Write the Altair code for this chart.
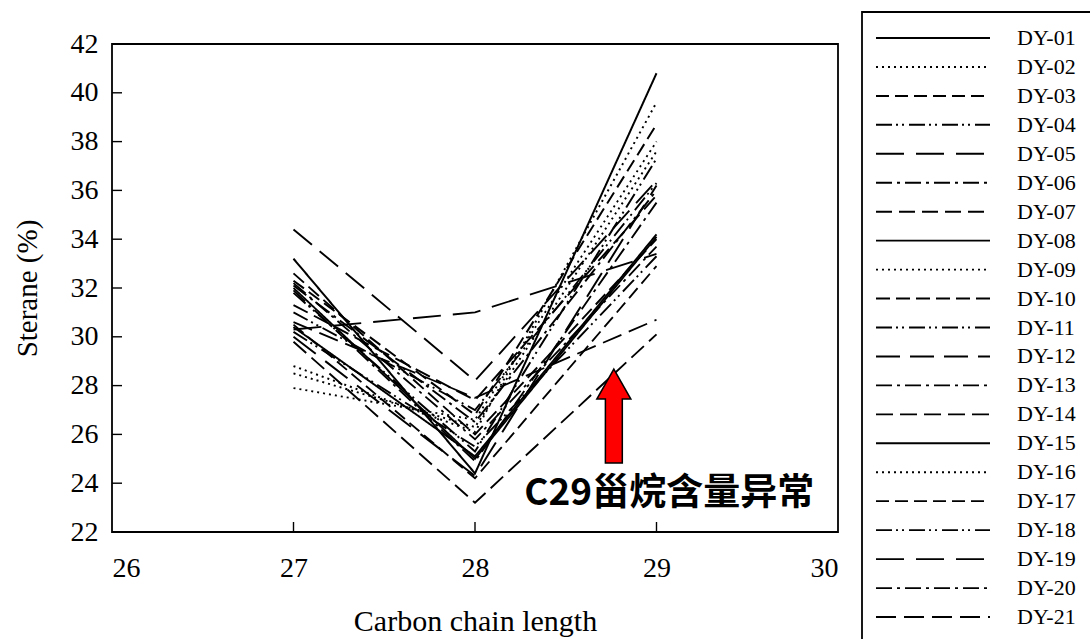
import altair as alt
import pandas as pd

# Sterane distribution (C27 / C28 / C29, %) for each sample
samples = [f"DY-{i:02d}" for i in range(1, 22)]
c27 = [33.2, 28.8, 32.3, 31.8, 30.0, 32.1, 31.3, 30.4, 28.5, 32.6, 30.2,
       34.4, 31.9, 29.8, 32.0, 27.9, 30.5, 31.0, 30.3, 32.2, 30.6]
c28 = [24.4, 26.1, 26.8, 25.3, 24.3, 26.5, 27.4, 25.1, 26.3, 26.0, 25.5,
       28.2, 24.9, 23.2, 25.0, 26.6, 24.2, 27.0, 31.0, 25.8, 27.5]
c29 = [40.8, 39.6, 38.7, 37.3, 36.2, 36.0, 35.8, 34.2, 37.6, 34.0, 33.3,
       36.4, 35.5, 30.1, 34.1, 38.0, 32.9, 36.3, 33.4, 33.7, 30.7]
carbon = [27, 28, 29]

x_ticks = [27, 28, 29]
y_ticks = [24, 26, 28, 30, 32, 34, 36, 38, 40]

# line style per sample
dashes = [
    [1, 0], [2, 4], [13, 6], [16, 4, 2, 4, 2, 5], [28, 12], [16, 5, 3, 5],
    [16, 7], [1, 0], [2, 4], [14, 6], [16, 4, 2, 4, 2, 5], [24, 10],
    [16, 5, 3, 5], [17, 7], [1, 0], [2, 4], [13, 6], [16, 4, 2, 4, 2, 5],
    [28, 12], [16, 5, 3, 5], [20, 8],
]
widths = [2.0, 1.8, 2.8, 1.9, 1.9, 2.8, 2.1, 2.0, 1.8, 2.1, 1.9, 2.8,
          2.0, 2.0, 2.9, 1.8, 2.3, 2.6, 1.9, 2.1, 2.8]

annotation = "C29甾烷含量异常"

rows = []
for s, a, b, c in zip(samples, c27, c28, c29):
    for x, y in zip(carbon, (a, b, c)):
        rows.append({"sample": s, "carbon": x, "value": y})
df = pd.DataFrame(rows)
legend_df = pd.DataFrame({"sample": samples})

W, H = 726, 488
SERIF = "'Liberation Serif', 'Times New Roman', Times, serif"

xs = alt.Scale(domain=[26, 30], nice=False, zero=False)
ys = alt.Scale(domain=[22, 42], nice=False, zero=False)
dash_scale = alt.Scale(domain=samples, range=dashes)
width_scale = alt.Scale(domain=samples, range=widths)

lines = alt.Chart(df).mark_line(color="black").encode(
    x=alt.X("carbon:Q", scale=xs,
            axis=alt.Axis(values=[26, 27, 28, 29, 30], title="Carbon chain length",
                          ticks=False, domain=False, grid=False, format="d",
                          labelFont=SERIF, labelFontSize=28, labelColor="black",
                          labelPadding=22, titleFont=SERIF, titleFontSize=30,
                          titleFontWeight="normal", titleColor="black", titlePadding=24)),
    y=alt.Y("value:Q", scale=ys,
            axis=alt.Axis(values=list(range(22, 43, 2)), title="Sterane (%)",
                          ticks=False, domain=False, grid=False,
                          labelFont=SERIF, labelFontSize=28, labelColor="black",
                          labelPadding=14, titleFont=SERIF, titleFontSize=29,
                          titleFontWeight="normal", titleColor="black", titlePadding=28)),
    detail="sample:N",
    strokeDash=alt.StrokeDash("sample:N", scale=dash_scale, legend=None),
    strokeWidth=alt.StrokeWidth("sample:N", scale=width_scale, legend=None),
)

xtick = alt.Chart(pd.DataFrame({"v": x_ticks})).mark_rule(color="black", strokeWidth=1.4).encode(
    x=alt.X("v:Q", scale=xs), y=alt.value(H), y2=alt.value(H - 10))
ytick = alt.Chart(pd.DataFrame({"v": y_ticks})).mark_rule(color="black", strokeWidth=1.4).encode(
    y=alt.Y("v:Q", scale=ys), x=alt.value(0), x2=alt.value(10))

arrow_path = ("M0,-1 L0.362,-0.362 L0.18,-0.362 L0.18,1 L-0.18,1 "
              "L-0.18,-0.362 L-0.362,-0.362 Z")
arrow = alt.Chart(pd.DataFrame({"x": [28.765], "y": [26.75]})).mark_point(
    shape=arrow_path, size=8836, filled=True, fill="#ff0000", stroke="black",
    strokeWidth=1.5, opacity=1).encode(
    x=alt.X("x:Q", scale=xs), y=alt.Y("y:Q", scale=ys))

note = alt.Chart(pd.DataFrame({"x": [29.07], "y": [23.56], "t": [annotation]})).mark_text(
    font="Noto Sans CJK SC", fontWeight="bold", fontSize=37, color="black",
    align="center", baseline="middle").encode(
    x=alt.X("x:Q", scale=xs), y=alt.Y("y:Q", scale=ys), text="t:N")

main = alt.layer(lines, xtick, ytick, arrow, note)

# legend panel drawn beside the plot
leg_y = alt.Scale(type="point", domain=samples, range=[-6, 573], padding=0)
leg_lines = alt.Chart(legend_df).mark_rule(color="black").encode(
    y=alt.Y("sample:N", scale=leg_y, axis=None),
    x=alt.value(764), x2=alt.value(878),
    strokeDash=alt.StrokeDash("sample:N", scale=dash_scale, legend=None),
    strokeWidth=alt.StrokeWidth("sample:N", scale=width_scale, legend=None),
)
leg_text = alt.Chart(legend_df).mark_text(
    font=SERIF, fontSize=22, color="black", align="left", baseline="middle").encode(
    y=alt.Y("sample:N", scale=leg_y, axis=None),
    x=alt.value(905), text="sample:N")
leg_box = alt.Chart(legend_df.head(1)).mark_rect(
    filled=False, stroke="black", strokeWidth=1.8).encode(
    x=alt.value(750), x2=alt.value(1000), y=alt.value(-32), y2=alt.value(620))
legend = alt.layer(leg_box, leg_lines, leg_text)

chart = alt.layer(main, legend).resolve_scale(y="independent").properties(
    width=W, height=H,
    autosize=alt.AutoSizeParams(type="none"),
    padding={"left": 112, "top": 44, "right": 252, "bottom": 107},
    background="white",
).configure_view(stroke="black", strokeWidth=1.8)

chart.save("out.html", embed_options={"renderer": "svg", "actions": False})
